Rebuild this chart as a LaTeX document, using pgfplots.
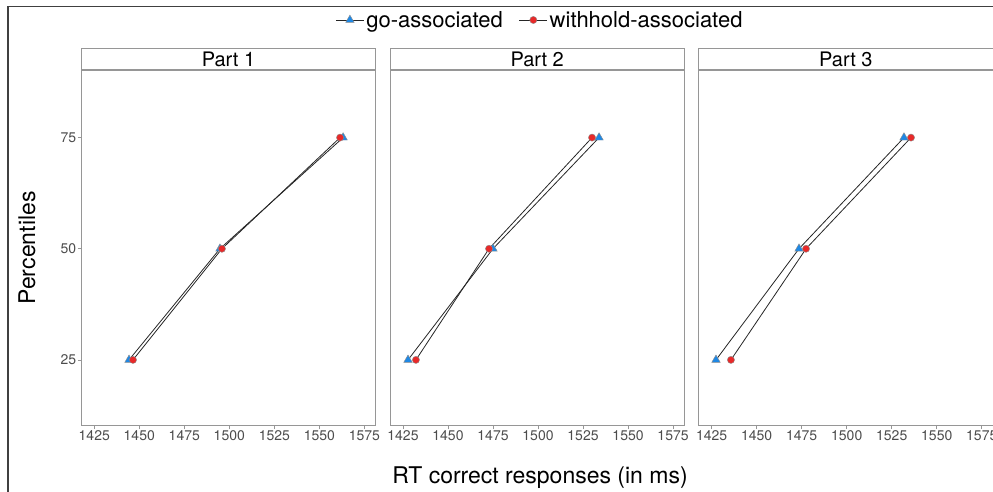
\documentclass[border=0pt]{standalone}
\usepackage{pgfplots}
\pgfplotsset{compat=1.18}
\usepackage{fontspec}
\setmainfont{TeX Gyre Heros}
\definecolor{goblue}{RGB}{30,136,229}
\definecolor{whred}{RGB}{232,41,41}
\definecolor{frame}{RGB}{150,150,150}
\pgfplotsset{
  panel/.style={
    scale only axis, width=294.4pt, height=355.7pt,
    xmin=1417.8, xmax=1581.3, ymin=10.2, ymax=90.2,
    xtick={1425,1450,1475,1500,1525,1550,1575},
    ytick={25,50,75},
    axis line style={draw=frame, line width=0.7pt},
    tick style={draw=frame, line width=0.6pt},
    tick align=outside, major tick length=3.5pt,
    xtick pos=bottom, ytick pos=left,
    ticklabel style={font=\fontsize{14}{16}\selectfont, text=black!70},
    xticklabel style={inner sep=1.5pt},
    yticklabel style={inner sep=1.5pt},
    /pgf/number format/1000 sep={},
    /pgf/number format/assume math mode=true,
    every axis title shift=0pt,
    title style={at={(0.5,1)}, anchor=south, draw=frame, fill=white, line width=0.7pt,
      minimum width=294.4pt, minimum height=21.3pt, inner sep=0pt,
      font=\fontsize{20}{24}\selectfont},
    clip=false,
  },
  ln/.style={black!85, line width=0.8pt, forget plot},
  gomk/.style={only marks, mark=triangle*, mark size=4.9pt,
    mark options={fill=goblue, draw=black!45, line width=0.4pt}},
  whmk/.style={only marks, mark=*, mark size=3.6pt,
    mark options={fill=whred, draw=black!45, line width=0.4pt}},
  legend image code/.code={
    \draw[black!85, line width=0.8pt] (0pt,0pt) -- (28pt,0pt);
    \draw plot coordinates {(14pt,0pt)};
  },
}
\begin{document}
\begin{tikzpicture}[x=1pt,y=1pt]
\useasboundingbox (0pt,0pt) rectangle (993pt,492pt);
\draw[line width=1.3pt, black!75] (8pt,0pt) -- (8pt,485.5pt) -- (993pt,485.5pt);

% Part 1
\begin{axis}[panel, at={(81.3pt,66.3pt)}, anchor=south west, title={Part 1}]
\addplot[ln] coordinates {(1444.3,25) (1494.8,50) (1563.2,75)};
\addplot[ln] coordinates {(1446.5,25) (1495.9,50) (1561.5,75)};
\addplot[gomk] coordinates {(1444.3,25) (1494.8,50) (1563.2,75)};
\addplot[whmk] coordinates {(1446.5,25) (1495.9,50) (1561.5,75)};
\end{axis}

% Part 2
\begin{axis}[panel, at={(390pt,66.3pt)}, anchor=south west, title={Part 2}, ytick=\empty,
  legend columns=2,
  legend style={at={(0.5095,1.1406)}, anchor=center, draw=none, fill=none,
    font=\fontsize{22}{26}\selectfont, inner sep=0pt,
    /tikz/every even column/.append style={column sep=14pt}},
  legend cell align=left]
\addplot[ln] coordinates {(1427.8,25) (1475.0,50) (1533.9,75)};
\addplot[ln] coordinates {(1432.2,25) (1472.8,50) (1530.0,75)};
\addplot[gomk] coordinates {(1427.8,25) (1475.0,50) (1533.9,75)};
\addplot[whmk] coordinates {(1432.2,25) (1472.8,50) (1530.0,75)};
\legend{go-associated, withhold-associated}
\end{axis}

% Part 3
\begin{axis}[panel, at={(698.7pt,66.3pt)}, anchor=south west, title={Part 3}, ytick=\empty]
\addplot[ln] coordinates {(1427.4,25) (1473.5,50) (1531.8,75)};
\addplot[ln] coordinates {(1435.7,25) (1477.4,50) (1535.7,75)};
\addplot[gomk] coordinates {(1427.4,25) (1473.5,50) (1531.8,75)};
\addplot[whmk] coordinates {(1435.7,25) (1477.4,50) (1535.7,75)};
\end{axis}

\node[font=\fontsize{23}{27}\selectfont] at (540pt,14pt) {RT correct responses (in ms)};
\node[font=\fontsize{23}{27}\selectfont, rotate=90] at (27pt,244pt) {Percentiles};
\end{tikzpicture}
\end{document}
